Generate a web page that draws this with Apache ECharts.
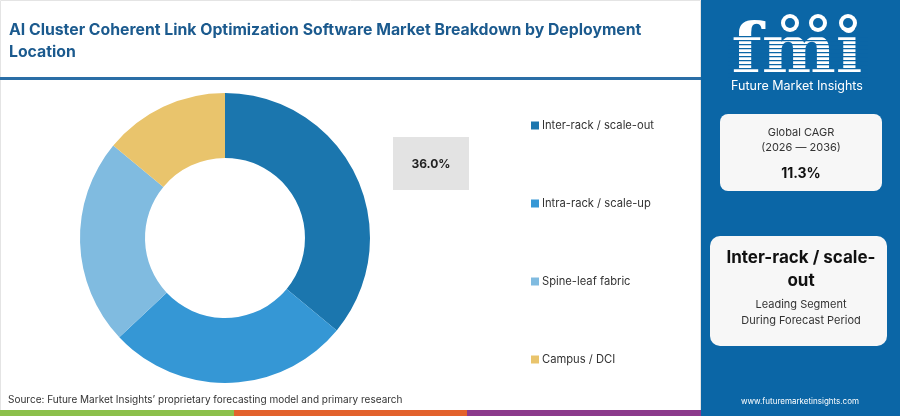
<!DOCTYPE html>
<html>
<head>
<meta charset="utf-8">
<script src="https://cdn.jsdelivr.net/npm/echarts@6/dist/echarts.min.js"></script>
<style>
html,body{margin:0;padding:0;background:#fff;}
#c{width:900px;height:416px;}
</style>
</head>
<body>
<div id="c"></div>
<script>
const categories = ["Inter-rack / scale-out", "Intra-rack / scale-up", "Spine-leaf fabric", "Campus / DCI"];
const shares = [36, 27, 23, 14];
const colors = ["#1b76ae", "#3597d5", "#80bbe0", "#e9c46c"];
const titleText = "AI Cluster Coherent Link Optimization Software Market Breakdown by Deployment\nLocation";
const cagrLabel = ["Global CAGR", "(2026 \u2014 2036)"];
const cagrValue = "11.3%";
const leadSegment = "Inter-rack / scale-\nout";
const sourceText = "Source: Future Market Insights\u2019 proprietary forecasting model and primary research";

const FONT = "Inter, 'Open Sans', sans-serif";
const chart = echarts.init(document.getElementById('c'), null, {renderer: 'canvas'});

const logoStripes = [];
for (let y = 36; y < 78; y += 4) {
  logoStripes.push({type:'rect', shape:{x:728, y:y, width:140, height:1.3}, style:{fill:'#0b66a6'}, z:12});
}

chart.setOption({
  animation: false,
  color: colors,
  legend: {
    orient: 'vertical',
    left: 531,
    top: 120,
    padding: 0,
    itemWidth: 8,
    itemHeight: 8,
    itemGap: 67,
    icon: 'rect',
    itemStyle: {borderWidth: 0},
    textStyle: {fontFamily: FONT, fontSize: 11.2, color: '#333', padding:[0,0,0,-2]},
    data: categories
  },
  series: [{
    type: 'pie',
    center: [225, 238],
    radius: [80, 145],
    startAngle: 90,
    clockwise: true,
    label: {show: false},
    labelLine: {show: false},
    emphasis: {disabled: true},
    itemStyle: {borderWidth: 0},
    data: categories.map((n, i) => ({name: n, value: shares[i]}))
  }],
  graphic: [
    {type:'rect', shape:{x:0.5, y:0.5, width:700, height:415}, style:{fill:'none', stroke:'#e4e4e4', lineWidth:1}, z:0},
    {type:'text', left: 9, top: 19, style:{text: titleText, font:'bold 15.8px ' + FONT, fill:'#1b5a8e', lineHeight:22}},
    {type:'rect', shape:{x:0, y:77, width:701, height:3}, style:{fill:'#2a6ea6'}},
    {type:'rect', shape:{x:393, y:137, width:76, height:53}, style:{fill:'#e3e3e3'}},
    {type:'text', x:431, y:164, style:{text: shares[0].toFixed(1) + '%', font:'bold 12px ' + FONT, fill:'#222', align:'center', verticalAlign:'middle'}},
    {type:'text', x:8, y:400, style:{text: sourceText, font:'10px ' + FONT, fill:'#333', verticalAlign:'middle'}},
    {type:'rect', shape:{x:0, y:410, width:234, height:6}, style:{fill:'#8cc04b'}},
    {type:'rect', shape:{x:234, y:410, width:233, height:6}, style:{fill:'#e3622c'}},
    {type:'rect', shape:{x:467, y:410, width:234, height:6}, style:{fill:'#8c3a8c'}},
    {type:'rect', shape:{x:701, y:0, width:199, height:416}, style:{fill:'#0b66a6'}, z:5},
    {type:'text', x:797, y:55, style:{text:'fmi', font:'bold 70px "DejaVu Serif", serif', fill:'#ffffff', align:'center', verticalAlign:'middle'}, z:11},
    ...logoStripes,
    {type:'circle', shape:{cx:790, cy:23, r:9}, style:{fill:'#ffffff'}, z:13},
    {type:'circle', shape:{cx:818, cy:23, r:9}, style:{fill:'#ffffff'}, z:13},
    {type:'circle', shape:{cx:848, cy:23, r:9}, style:{fill:'#ffffff'}, z:13},
    {type:'circle', shape:{cx:790, cy:23, r:5}, style:{fill:'#0b66a6'}, z:14},
    {type:'circle', shape:{cx:818, cy:23, r:5}, style:{fill:'#0b66a6'}, z:14},
    {type:'circle', shape:{cx:848, cy:23, r:5}, style:{fill:'#0b66a6'}, z:14},
    {type:'text', x:797, y:86, style:{text:'Future Market Insights', font:'12.5px ' + FONT, fill:'#ffffff', align:'center', verticalAlign:'middle'}, z:11},
    {type:'rect', shape:{x:720, y:114, width:162, height:77, r:8}, style:{fill:'#f7f7f7'}, z:10},
    {type:'text', x:801, y:133, style:{text:cagrLabel[0], font:'11px ' + FONT, fill:'#333', align:'center', verticalAlign:'middle'}, z:11},
    {type:'text', x:801, y:148, style:{text:cagrLabel[1], font:'11px ' + FONT, fill:'#333', align:'center', verticalAlign:'middle'}, z:11},
    {type:'text', x:801, y:174, style:{text:cagrValue, font:'bold 14px ' + FONT, fill:'#111', align:'center', verticalAlign:'middle'}, z:11},
    {type:'rect', shape:{x:710, y:236, width:177, height:110, r:10}, style:{fill:'#f7f7f7'}, z:10},
    {type:'text', x:801, y:269, style:{text:leadSegment, font:'bold 17px ' + FONT, fill:'#111', align:'center', verticalAlign:'middle', lineHeight:23}, z:11},
    {type:'text', x:801, y:305, style:{text:'Leading Segment', font:'11px ' + FONT, fill:'#333', align:'center', verticalAlign:'middle'}, z:11},
    {type:'text', x:801, y:321, style:{text:'During Forecast Period', font:'11px ' + FONT, fill:'#333', align:'center', verticalAlign:'middle'}, z:11},
    {type:'text', x:800, y:402, style:{text:'www.futuremarketinsights.com', font:'8px ' + FONT, fill:'#ffffff', align:'center', verticalAlign:'middle'}, z:11}
  ]
});
</script>
</body>
</html>
